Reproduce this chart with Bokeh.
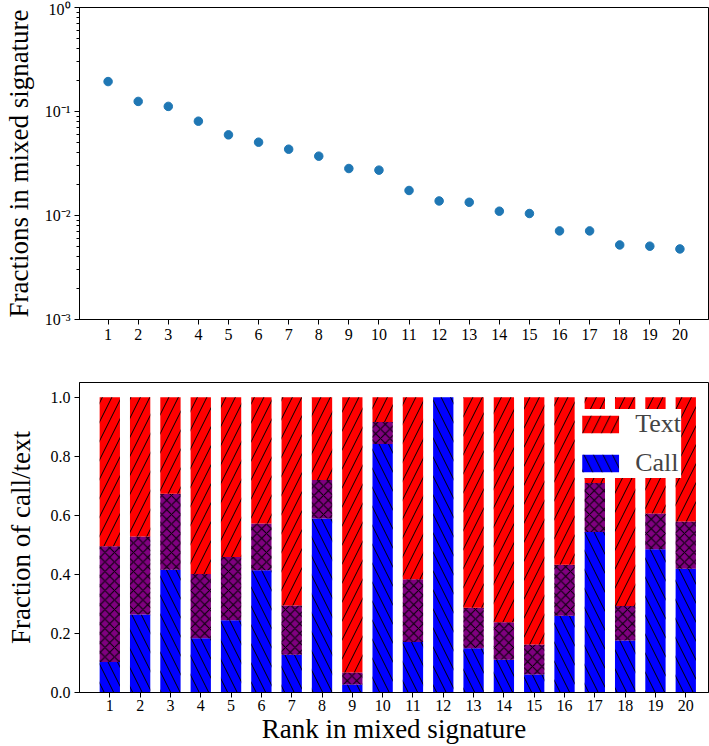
import numpy as np
from bokeh.plotting import figure
from bokeh.layouts import column
from bokeh.models import (FixedTicker, CustomJSTickFormatter, Legend, LegendItem,
                          Range1d, PrintfTickFormatter)
from bokeh.embed import file_html
from bokeh.resources import INLINE

# ---- data ----
rank = list(range(1, 21))
fractions = [0.194, 0.125, 0.112, 0.0807, 0.0596, 0.0507, 0.0434, 0.0372, 0.0283, 0.0273,
             0.0174, 0.0138, 0.0134, 0.0110, 0.01045, 0.00711, 0.00711, 0.00521, 0.00507, 0.00477]
call_frac = [0.495, 0.528, 0.673, 0.401, 0.459, 0.572, 0.295, 0.720, 0.068, 0.916,
             0.384, 1.000, 0.287, 0.238, 0.163, 0.433, 0.710, 0.293, 0.606, 0.579]
text_frac = [0.897, 0.736, 0.584, 0.816, 0.755, 0.586, 0.872, 0.411, 0.973, 0.158,
             0.829, 0.000, 0.850, 0.889, 0.939, 0.740, 0.456, 0.824, 0.515, 0.581]
y_ticks_bar = [0.0, 0.2, 0.4, 0.6, 0.8, 1.0]

FONT = "Liberation Serif"
TICK_SIZE = "16px"
LABEL_SIZE = "27px"


def style(p):
    p.grid.visible = False
    p.outline_line_color = "black"
    p.outline_line_alpha = 1
    p.outline_line_width = 1
    for ax in (p.xaxis, p.yaxis):
        ax.axis_line_color = "black"
        ax.major_tick_line_color = "black"
        ax.major_tick_in = 0
        ax.major_tick_out = 5
        ax.minor_tick_in = 0
        ax.minor_tick_out = 3
        ax.major_label_text_font = FONT
        ax.major_label_text_font_size = TICK_SIZE
        ax.major_label_text_color = "black"
        ax.axis_label_text_font = FONT
        ax.axis_label_text_font_size = LABEL_SIZE
        ax.axis_label_text_font_style = "normal"
        ax.axis_label_text_color = "black"
        ax.major_label_standoff = 4
        ax.axis_label_standoff = 4
    p.xaxis.minor_tick_line_color = None


W_FIG = 709

# ---- top: fractions scatter (log) ----
p1 = figure(width=W_FIG, height=362, y_axis_type="log",
            x_range=Range1d(0.05, 20.95), y_range=Range1d(1e-3, 1.0),
            output_backend="svg", toolbar_location=None,
            min_border_left=67, min_border_right=1, min_border_top=7, min_border_bottom=43)
p1.scatter(rank, fractions, size=8.5, color="#1f77b4", line_color="#1f77b4")
style(p1)
p1.xaxis.ticker = FixedTicker(ticks=rank)
p1.yaxis.axis_label = "Fractions in mixed signature"
p1.yaxis.axis_label_standoff = 8
p1.yaxis.minor_tick_line_color = "black"
p1.yaxis.formatter = CustomJSTickFormatter(code="""
const e = Math.round(Math.log10(tick));
const sup = {'-3':'\\u207B\\u00B3','-2':'\\u207B\\u00B2','-1':'\\u207B\\u00B9','0':'\\u2070'};
return '10' + (sup[String(e)] || String(e));
""")

# ---- bottom: call/text fractions ----
p2 = figure(width=W_FIG, height=384,
            x_range=Range1d(0, 20.75), y_range=Range1d(0, 1.05),
            output_backend="svg", toolbar_location=None,
            min_border_left=67, min_border_right=1, min_border_top=20, min_border_bottom=40)
call_arr = np.array(call_frac)
text_arr = np.array(text_frac)
blue_top = 1.0 - text_arr
W = 0.67
HS = 19
blue = p2.vbar(x=rank, width=W, bottom=0, top=blue_top, fill_color="#0000ff", line_color=None,
               hatch_pattern="\\", hatch_color="black", hatch_scale=HS, hatch_weight=1)
p2.vbar(x=rank, width=W, bottom=blue_top, top=call_arr, fill_color="#800080", line_color=None,
        hatch_pattern="x", hatch_color="black", hatch_scale=HS / 2, hatch_weight=1)
red = p2.vbar(x=rank, width=W, bottom=call_arr, top=1.0, fill_color="#ff0000", line_color=None,
              hatch_pattern="/", hatch_color="black", hatch_scale=HS, hatch_weight=1)
style(p2)
p2.xaxis.ticker = FixedTicker(ticks=rank)
p2.yaxis.ticker = FixedTicker(ticks=y_ticks_bar)
p2.yaxis.formatter = PrintfTickFormatter(format="%.1f")
p2.yaxis.minor_tick_line_color = None
p2.yaxis.axis_label = "Fraction of call/text"
p2.yaxis.axis_label_standoff = 12
p2.xaxis.axis_label = "Rank in mixed signature"
p2.xaxis.major_label_standoff = 2
p2.xaxis.axis_label_standoff = 0

legend = Legend(items=[LegendItem(label="Text", renderers=[red]),
                       LegendItem(label="Call", renderers=[blue])],
                location="top_right", margin=27, padding=12, spacing=9,
                glyph_width=46, glyph_height=22, label_standoff=12,
                label_text_font=FONT, label_text_font_size="26px",
                label_height=22,
                border_line_color=None, background_fill_color="white",
                background_fill_alpha=1)
p2.add_layout(legend)

layout = column(p1, p2, spacing=0)
open("out.html", "w", encoding="utf-8").write(file_html(layout, INLINE))
